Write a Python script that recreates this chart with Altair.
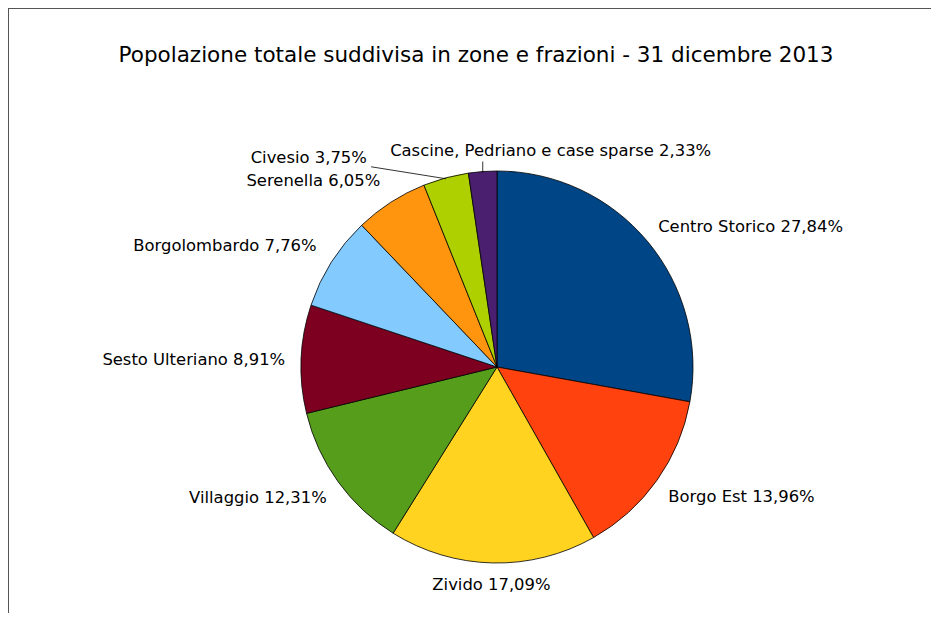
import altair as alt
import pandas as pd

names = ["Centro Storico", "Borgo Est", "Zivido", "Villaggio", "Sesto Ulteriano",
         "Borgolombardo", "Serenella", "Civesio", "Cascine, Pedriano e case sparse"]
values = [27.84, 13.96, 17.09, 12.31, 8.91, 7.76, 6.05, 3.75, 2.33]
colors = ["#004586", "#ff420e", "#ffd320", "#579d1c", "#7e0021",
          "#83caff", "#ff950e", "#aecf00", "#4b1f6f"]
title_text = "Popolazione totale suddivisa in zone e frazioni - 31 dicembre 2013"

labels = [f"{n} {v:.2f}%".replace(".", ",") for n, v in zip(names, values)]
df = pd.DataFrame({"idx": list(range(len(names))), "name": names,
                   "value": values, "label": labels})

FONT = "DejaVu Sans"
FS = 16.4
R = 196
W = H = 2 * R

theta_scale = alt.Scale(domain=[0, 100])

base = alt.Chart(df).transform_window(
    cum="sum(value)", sort=[alt.SortField("idx")], frame=[None, 0]
).transform_calculate(
    mid="datum.cum - datum.value / 2",
    ang="(datum.cum - datum.value / 2) / 100 * 2 * PI",
).transform_calculate(
    px=f"{R} + {R - 1} * sin(datum.ang)",
    py=f"{R} - {R - 1} * cos(datum.ang)",
)

pie = alt.Chart(df).mark_arc(stroke="#000000", strokeWidth=0.8).encode(
    theta=alt.Theta("value:Q", stack=True, scale=theta_scale),
    color=alt.Color("name:N", scale=alt.Scale(domain=names, range=colors), legend=None),
    order=alt.Order("idx:Q"),
)


def label_layer(subset, align, baseline, radius, dx=0, dy=0):
    return base.transform_filter(
        alt.FieldOneOfPredicate(field="name", oneOf=subset)
    ).mark_text(
        radius=radius, align=align, baseline=baseline, dx=dx, dy=dy,
        font=FONT, fontSize=FS, color="#000000"
    ).encode(
        theta=alt.Theta("mid:Q", scale=theta_scale, stack=None),
        text="label:N",
    )


def leader(name, ox, oy):
    return base.transform_filter(
        alt.FieldEqualPredicate(field="name", equal=name)
    ).transform_calculate(
        qx=f"datum.px + ({ox})", qy=f"datum.py + ({oy})"
    ).mark_rule(color="#000000", strokeWidth=0.8).encode(
        x=alt.X("px:Q", scale=None), y=alt.Y("py:Q", scale=None),
        x2="qx:Q", y2="qy:Q",
    )


title_layer = alt.Chart(pd.DataFrame({"t": [title_text]})).mark_text(
    align="center", baseline="alphabetic", font=FONT, fontSize=21.5, color="#000000"
).encode(text="t:N", x=alt.value(R - 21), y=alt.value(-109))

layers = [
    pie,
    label_layer(["Centro Storico"], "left", "alphabetic", 210),
    label_layer(["Borgo Est"], "left", "top", 210),
    label_layer(["Zivido"], "center", "top", 210, dx=-1),
    label_layer(["Villaggio"], "right", "top", 210),
    label_layer(["Sesto Ulteriano"], "right", "middle", 210, dx=-2, dy=2),
    label_layer(["Borgolombardo", "Serenella"], "right", "alphabetic", 210, dx=-3, dy=-4),
    label_layer(["Civesio"], "right", "alphabetic", R, dx=-79, dy=-15),
    label_layer(["Cascine, Pedriano e case sparse"], "center", "alphabetic", R, dx=68, dy=-16),
    leader("Civesio", -75, -12),
    leader("Cascine, Pedriano e case sparse", 0, -11),
    title_layer,
    alt.Chart(df).mark_rule(color="#555555", strokeWidth=1).encode(
        x=alt.value(-292.5), x2=alt.value(800), y=alt.value(-162.5)),
    alt.Chart(df).mark_rule(color="#555555", strokeWidth=1).encode(
        x=alt.value(-292.5), y=alt.value(-162.5), y2=alt.value(600)),
]

chart = alt.layer(*layers).properties(
    width=W, height=H,
    background="white",
    autosize=alt.AutoSizeParams(type="none"),
    padding={"left": 293, "top": 163, "right": 238, "bottom": 50},
).configure_view(strokeWidth=0, stroke="transparent")

chart.save("out.html", embed_options={"renderer": "svg", "actions": False})
